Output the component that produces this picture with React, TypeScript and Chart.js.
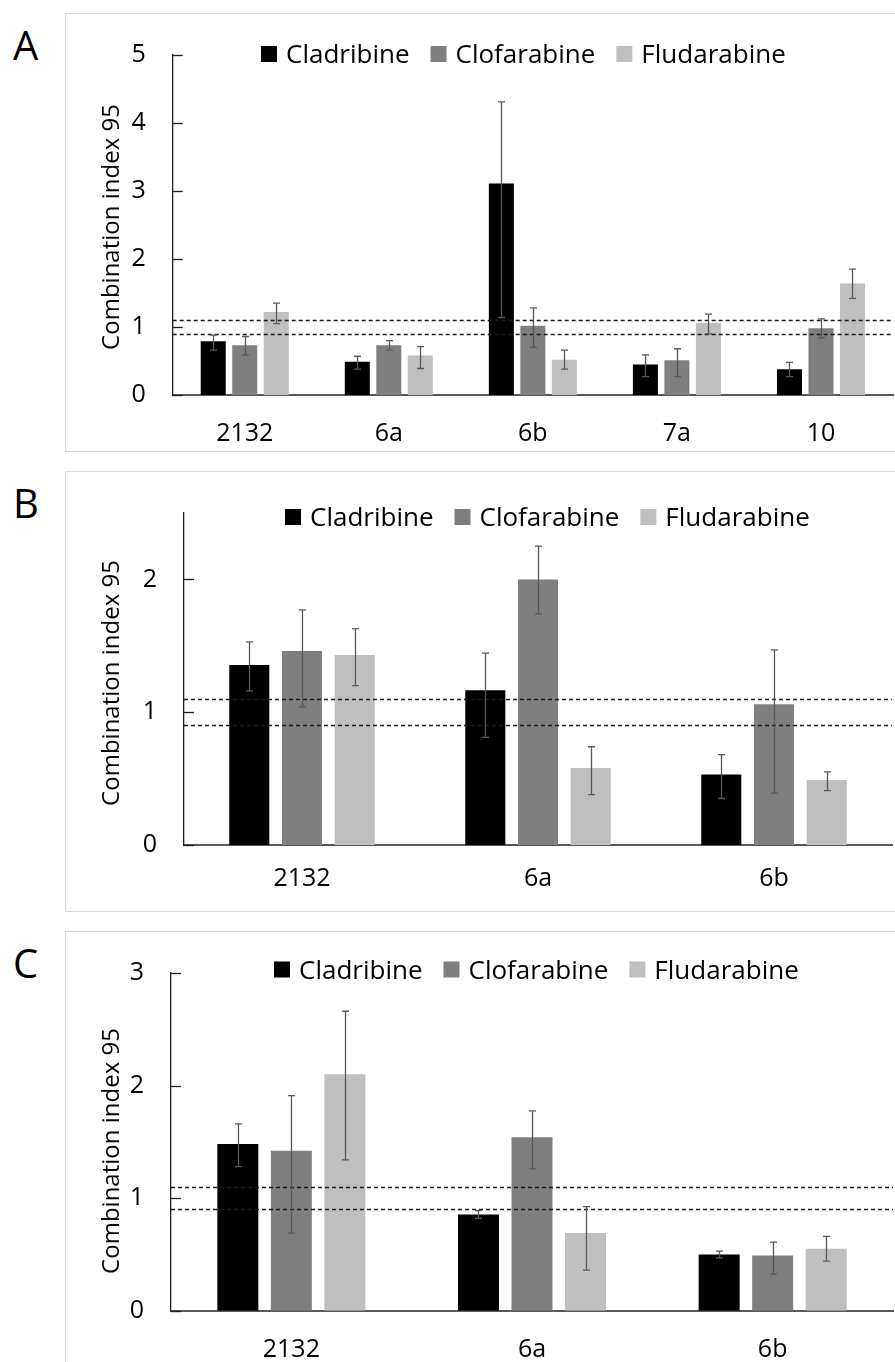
import React, { useEffect, useRef } from "react";
import { Chart, registerables } from "chart.js";

Chart.register(...registerables);

const FONT = "'Open Sans', 'DejaVu Sans', sans-serif";

// ---------- shared ----------
const seriesNames = ["Cladribine", "Clofarabine", "Fludarabine"];
const seriesColors = ["#000000", "#7f7f7f", "#bfbfbf"];
const thresholdLines = [0.9, 1.1];
const yTitle = "Combination index 95";

// ---------- panel A ----------
const categoriesA = ["2132", "6a", "6b", "7a", "10"];
const cladribineA = [0.79, 0.49, 3.11, 0.45, 0.38];
const clofarabineA = [0.73, 0.73, 1.02, 0.51, 0.98];
const fludarabineA = [1.22, 0.58, 0.52, 1.06, 1.64];
const cladribineALow = [0.66, 0.38, 1.14, 0.27, 0.27];
const cladribineAHigh = [0.88, 0.57, 4.31, 0.59, 0.48];
const clofarabineALow = [0.59, 0.66, 0.7, 0.27, 0.84];
const clofarabineAHigh = [0.86, 0.8, 1.28, 0.68, 1.12];
const fludarabineALow = [1.05, 0.39, 0.38, 0.9, 1.42];
const fludarabineAHigh = [1.35, 0.71, 0.66, 1.19, 1.85];
const yTicksA = [0, 1, 2, 3, 4, 5];

// ---------- panel B ----------
const categoriesB = ["2132", "6a", "6b"];
const cladribineB = [1.355, 1.165, 0.53];
const clofarabineB = [1.46, 2.0, 1.06];
const fludarabineB = [1.43, 0.58, 0.49];
const cladribineBLow = [1.16, 0.81, 0.35];
const cladribineBHigh = [1.53, 1.445, 0.68];
const clofarabineBLow = [1.04, 1.74, 0.39];
const clofarabineBHigh = [1.77, 2.25, 1.47];
const fludarabineBLow = [1.2, 0.38, 0.41];
const fludarabineBHigh = [1.63, 0.74, 0.55];
const yTicksB = [0, 1, 2];

// ---------- panel C ----------
const categoriesC = ["2132", "6a", "6b"];
const cladribineC = [1.48, 0.855, 0.5];
const clofarabineC = [1.42, 1.54, 0.49];
const fludarabineC = [2.1, 0.69, 0.55];
const cladribineCLow = [1.28, 0.82, 0.47];
const cladribineCHigh = [1.66, 0.89, 0.53];
const clofarabineCLow = [0.69, 1.26, 0.325];
const clofarabineCHigh = [1.91, 1.775, 0.61];
const fludarabineCLow = [1.34, 0.36, 0.44];
const fludarabineCHigh = [2.66, 0.925, 0.66];
const yTicksC = [0, 1, 2, 3];

// ---------- layout (page coordinates) ----------
const CANVAS_LEFT = 65;
const CANVAS_W = 830;
const Y_AXIS_COLOR = "#1f1f1f";
const X_AXIS_COLOR = "#595959";
const ERR_COLOR = "#595959";

type PanelCfg = {
  letter: string;
  categories: string[];
  values: number[][];
  lows: number[][];
  highs: number[][];
  yMax: number;
  yTicks: number[];
  frameTop: number;
  frameHeight: number;
  canvasHeight: number;
  plotLeft: number;
  plotTop: number;
  plotBottom: number;
  plotRight: number;
  xLabelPad: number;
  catPct: number;
  barPct: number;
  legendLeft: number;
  legendY: number;
  titleCenterY: number;
  letterSize: number;
  letterLeft: number;
  letterCapTop: number;
};

const panels: PanelCfg[] = [
  {
    letter: "A",
    categories: categoriesA,
    values: [cladribineA, clofarabineA, fludarabineA],
    lows: [cladribineALow, clofarabineALow, fludarabineALow],
    highs: [cladribineAHigh, clofarabineAHigh, fludarabineAHigh],
    yMax: 5,
    yTicks: yTicksA,
    frameTop: 13,
    frameHeight: 439,
    canvasHeight: 439,
    plotLeft: 172.7,
    plotTop: 31,
    plotBottom: 395,
    plotRight: 893,
    xLabelPad: 24,
    catPct: 0.656,
    barPct: 0.794,
    legendLeft: 261,
    legendY: 54,
    titleCenterY: 227,
    letterSize: 40,
    letterLeft: 13,
    letterCapTop: 32,
  },
  {
    letter: "B",
    categories: categoriesB,
    values: [cladribineB, clofarabineB, fludarabineB],
    lows: [cladribineBLow, clofarabineBLow, fludarabineBLow],
    highs: [cladribineBHigh, clofarabineBHigh, fludarabineBHigh],
    yMax: 2.5,
    yTicks: yTicksB,
    frameTop: 471,
    frameHeight: 441,
    canvasHeight: 441,
    plotLeft: 184,
    plotTop: 491,
    plotBottom: 845,
    plotRight: 892,
    xLabelPad: 19,
    catPct: 0.67,
    barPct: 0.76,
    legendLeft: 285,
    legendY: 517,
    titleCenterY: 683,
    letterSize: 40,
    letterLeft: 13,
    letterCapTop: 490,
  },
  {
    letter: "C",
    categories: categoriesC,
    values: [cladribineC, clofarabineC, fludarabineC],
    lows: [cladribineCLow, clofarabineCLow, fludarabineCLow],
    highs: [cladribineCHigh, clofarabineCHigh, fludarabineCHigh],
    yMax: 3,
    yTicks: yTicksC,
    frameTop: 931,
    frameHeight: 500,
    canvasHeight: 431,
    plotLeft: 171,
    plotTop: 950,
    plotBottom: 1310.7,
    plotRight: 893,
    xLabelPad: 24,
    catPct: 0.667,
    barPct: 0.766,
    legendLeft: 274,
    legendY: 969.5,
    titleCenterY: 1151,
    letterSize: 40,
    letterLeft: 13,
    letterCapTop: 950,
  },
];

function Panel({ cfg }: { cfg: PanelCfg }) {
  const ref = useRef<HTMLCanvasElement>(null);

  useEffect(() => {
    const canvas = ref.current;
    if (!canvas) return;
    const ox = CANVAS_LEFT;
    const oy = cfg.frameTop;
    const H = cfg.canvasHeight;

    const overlay = {
      id: "overlay",
      afterDatasetsDraw(chart: any) {
        const ctx = chart.ctx as CanvasRenderingContext2D;
        const ca = chart.chartArea;
        const ys = chart.scales.y;
        ctx.save();
        // inside tick marks on y axis
        ctx.strokeStyle = Y_AXIS_COLOR;
        ctx.lineWidth = 1.3;
        ys.ticks.forEach((t: any) => {
          const py = Math.round(ys.getPixelForValue(t.value)) + 0.5;
          ctx.beginPath();
          ctx.moveTo(ca.left, py);
          ctx.lineTo(ca.left + 10, py);
          ctx.stroke();
        });
        // dashed threshold lines
        ctx.strokeStyle = "#1a1a1a";
        ctx.lineWidth = 1.4;
        ctx.setLineDash([4, 3]);
        thresholdLines.forEach((v) => {
          const py = Math.round(ys.getPixelForValue(v)) + 0.5;
          ctx.beginPath();
          ctx.moveTo(ca.left, py);
          ctx.lineTo(ca.right, py);
          ctx.stroke();
        });
        ctx.setLineDash([]);
        // error bars
        ctx.strokeStyle = ERR_COLOR;
        ctx.lineWidth = 1.3;
        cfg.lows.forEach((lowArr, i) => {
          const meta = chart.getDatasetMeta(i);
          meta.data.forEach((bar: any, j: number) => {
            const x = Math.round(bar.x) + 0.5;
            const y1 = ys.getPixelForValue(cfg.highs[i][j]);
            const y2 = ys.getPixelForValue(lowArr[j]);
            ctx.beginPath();
            ctx.moveTo(x, y1);
            ctx.lineTo(x, y2);
            ctx.moveTo(x - 3.5, y1);
            ctx.lineTo(x + 3.5, y1);
            ctx.moveTo(x - 3.5, y2);
            ctx.lineTo(x + 3.5, y2);
            ctx.stroke();
          });
        });
        ctx.restore();
      },
      afterDraw(chart: any) {
        const ctx = chart.ctx as CanvasRenderingContext2D;
        ctx.save();
        // legend
        ctx.font = `26px ${FONT}`;
        ctx.textBaseline = "middle";
        ctx.textAlign = "left";
        let x = cfg.legendLeft - ox;
        const cy = cfg.legendY - oy;
        chart.data.datasets.forEach((ds: any) => {
          ctx.fillStyle = ds.backgroundColor;
          ctx.fillRect(x, cy - 8, 16, 16);
          x += 16 + 9;
          ctx.fillStyle = "#000";
          ctx.fillText(ds.label, x, cy + 2);
          x += ctx.measureText(ds.label).width + 21;
        });
        // y axis title
        ctx.translate(119 - ox, cfg.titleCenterY - oy);
        ctx.rotate(-Math.PI / 2);
        ctx.font = `24px ${FONT}`;
        ctx.textAlign = "center";
        ctx.textBaseline = "alphabetic";
        ctx.fillStyle = "#000";
        ctx.fillText(yTitle, 0, 0);
        ctx.restore();
      },
    };

    const chart = new Chart(canvas, {
      type: "bar",
      data: {
        labels: cfg.categories,
        datasets: cfg.values.map((v, i) => ({
          label: seriesNames[i],
          data: v,
          backgroundColor: seriesColors[i],
          borderWidth: 0,
          barPercentage: cfg.barPct,
          categoryPercentage: cfg.catPct,
        })),
      },
      options: {
        responsive: false,
        animation: false,
        devicePixelRatio: 1,
        layout: {
          padding: {
            left: 0,
            right: ox + CANVAS_W - cfg.plotRight,
            top: cfg.plotTop - oy,
            bottom: 0,
          },
        },
        plugins: {
          legend: { display: false },
          tooltip: { enabled: false },
        },
        scales: {
          x: {
            grid: { display: false, drawTicks: false },
            border: { display: true, color: X_AXIS_COLOR, width: 2 },
            ticks: {
              padding: cfg.xLabelPad,
              color: "#000",
              font: { family: FONT, size: 25 },
              maxRotation: 0,
              autoSkip: false,
            },
            afterFit: (s: any) => {
              s.height = oy + H - cfg.plotBottom;
            },
          },
          y: {
            min: 0,
            max: cfg.yMax,
            grid: { display: false, drawTicks: false },
            border: { display: true, color: Y_AXIS_COLOR, width: 1.3 },
            ticks: {
              padding: 27,
              color: "#000",
              font: { family: FONT, size: 25 },
            },
            afterBuildTicks: (s: any) => {
              s.ticks = cfg.yTicks.map((v) => ({ value: v }));
            },
            afterFit: (s: any) => {
              s.width = cfg.plotLeft - ox;
            },
          },
        },
      },
      plugins: [overlay],
    } as any);

    return () => chart.destroy();
  }, [cfg]);

  const capOffset = 0.174 * cfg.letterSize;

  return (
    <>
      <div
        style={{
          position: "absolute",
          left: CANVAS_LEFT,
          top: cfg.frameTop,
          width: 860,
          height: cfg.frameHeight,
          border: "1px solid #d9d9d9",
          boxSizing: "border-box",
        }}
      />
      <div
        style={{
          position: "absolute",
          left: cfg.letterLeft,
          top: cfg.letterCapTop - capOffset,
          fontFamily: FONT,
          fontSize: cfg.letterSize,
          lineHeight: `${cfg.letterSize}px`,
          color: "#000",
        }}
      >
        {cfg.letter}
      </div>
      <canvas
        ref={ref}
        width={CANVAS_W}
        height={cfg.canvasHeight}
        style={{
          position: "absolute",
          left: CANVAS_LEFT,
          top: cfg.frameTop,
          width: CANVAS_W,
          height: cfg.canvasHeight,
        }}
      />
    </>
  );
}

export default function App() {
  return (
    <div
      style={{
        position: "absolute",
        left: 0,
        top: 0,
        width: 895,
        height: 1362,
        overflow: "hidden",
        background: "#fff",
      }}
    >
      {panels.map((p) => (
        <Panel key={p.letter} cfg={p} />
      ))}
    </div>
  );
}
